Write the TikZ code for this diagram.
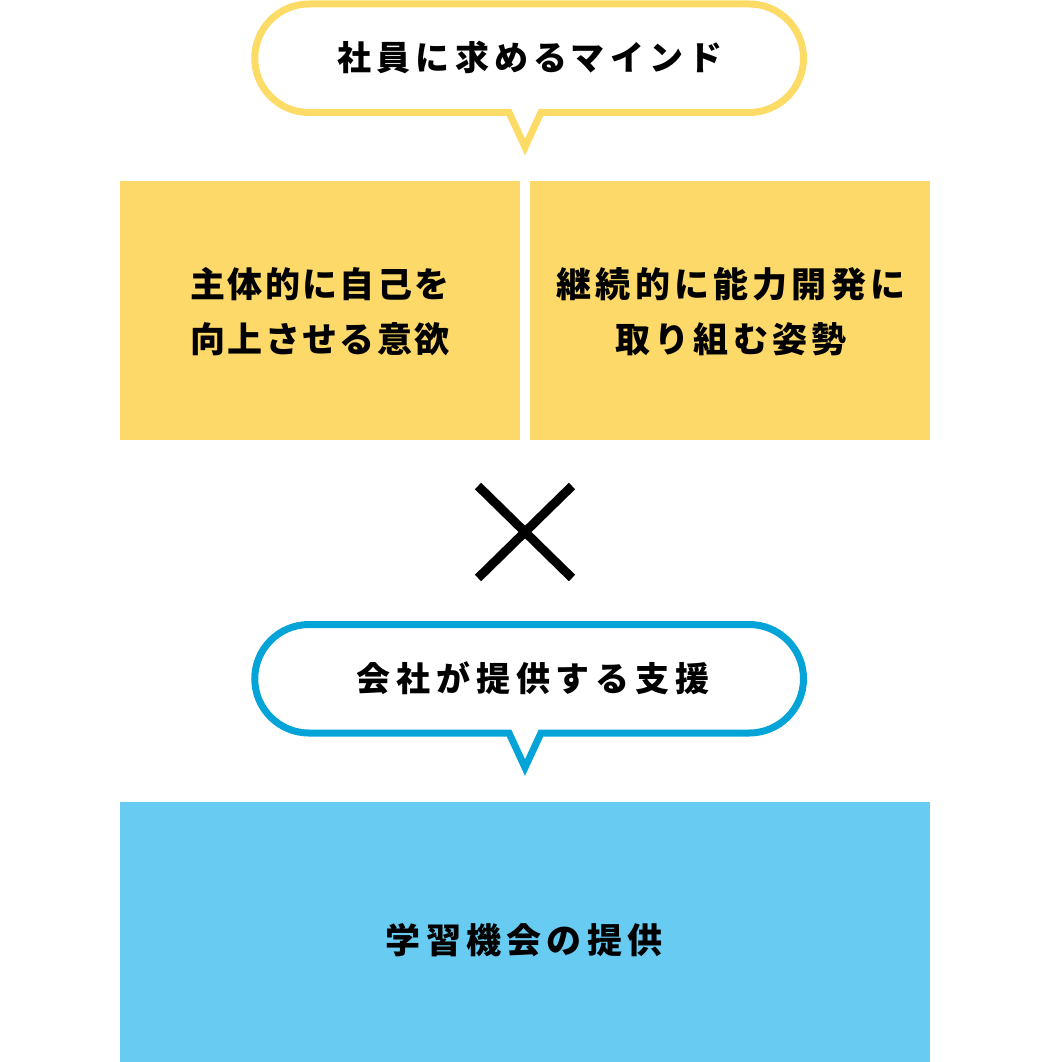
\documentclass[tikz,border=0pt]{standalone}
\usepackage{fontspec}
\newfontfamily\jpbox{Noto Sans CJK JP}[LetterSpace=7]
\newfontfamily\jpboxr{Noto Sans CJK JP}[LetterSpace=12]
\newfontfamily\jphead{Noto Sans CJK JP}[LetterSpace=15]
\newfontfamily\jpwide{Noto Sans CJK JP}[LetterSpace=17]
\newfontfamily\jplearn{Noto Sans CJK JP}[LetterSpace=15]
\definecolor{ybub}{HTML}{FDDB67}
\definecolor{ybox}{HTML}{FCD968}
\definecolor{bbub}{HTML}{04A3D8}
\definecolor{bbox}{HTML}{68CCF2}
\tikzset{
  bubble/.style={line width=7pt, line join=miter, fill=white},
  boxtext/.style={align=center, font=\jpbox\bfseries\fontsize{35pt}{55pt}\selectfont, text=black},
  boxtextr/.style={align=center, font=\jpboxr\bfseries\fontsize{35pt}{55pt}\selectfont, text=black},
  headtext/.style={font=\jphead\bfseries\fontsize{34pt}{40pt}\selectfont, text=black},
  widetext/.style={font=\jpwide\bfseries\fontsize{34pt}{40pt}\selectfont, text=black},
  learntext/.style={font=\jplearn\bfseries\fontsize{35pt}{40pt}\selectfont, text=black},
  timesmark/.style={line width=9pt, line cap=butt}
}
\begin{document}
\begin{tikzpicture}[x=1pt,y=-1pt]
\useasboundingbox (0,0) rectangle (1053,1062);
% top bubble
\draw[bubble, draw=ybub] (309,112.5) arc[start angle=90,end angle=270,radius=54.25]
  -- (749.25,4) arc[start angle=270,end angle=450,radius=54.25]
  -- (541,112.5) -- (525,147) -- (509,112.5) -- cycle;
\node[headtext] (mind) at (530,57) {社員に求めるマインド};
% yellow boxes
\fill[ybox] (120,181) rectangle (520,440);
\fill[ybox] (530,181) rectangle (930,440);
\node[boxtext] (left) at (320,312) {主体的に自己を\\向上させる意欲};
\node[boxtextr] (right) at (731,312) {継続的に能力開発に\\取り組む姿勢};
% cross
\coordinate (c1) at (478,486);
\coordinate (c2) at (572,578);
\coordinate (c3) at (572,486);
\coordinate (c4) at (478,578);
\draw[timesmark] (c1) -- (c2);
\draw[timesmark] (c3) -- (c4);
% bottom bubble
\draw[bubble, draw=bbub] (309,733) arc[start angle=90,end angle=270,radius=54.25]
  -- (749.25,624.5) arc[start angle=270,end angle=450,radius=54.25]
  -- (541,733) -- (525,767.5) -- (509,733) -- cycle;
\node[widetext] (support) at (533,678) {会社が提供する支援};
% blue box
\fill[bbox] (120,802) rectangle (930,1062);
\node[learntext] (learn) at (524,940) {学習機会の提供};
\end{tikzpicture}
\end{document}
